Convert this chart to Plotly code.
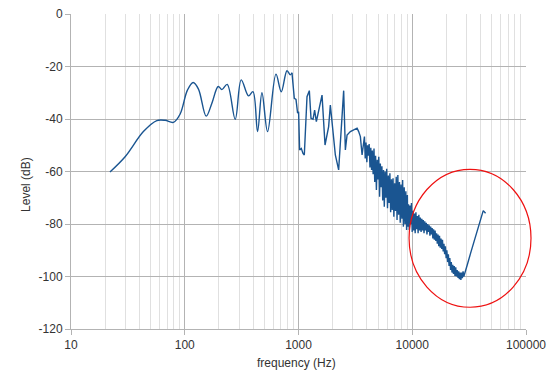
import plotly.graph_objects as go

# Smooth low-frequency part (Hz, dB)
smooth_freq = [22.0, 29.9, 43.3, 56.8, 67.2, 79.5, 91.1, 105.6, 118.6, 132, 154.3, 173.2,
               196.8, 212.2, 236.2, 277.8, 313.7, 363.7, 397.7, 436.5, 477.2, 534.6,
               633.9, 705.6, 792, 846.8, 876.5]
smooth_level = [-60.2, -54.4, -44.8, -40.6, -40.5, -41.3, -38.1, -29.0, -26.1, -28.6, -38.9, -34.0,
                -27.6, -28.8, -26.8, -40.1, -25.1, -31.2, -29.6, -44.8, -30.0, -44.8,
                -22.9, -29.6, -21.6, -23.2, -22.4]

# Mid part, ~0.9-3.6 kHz (Hz, dB)
mid_freq = [876.5, 918.3, 950.6, 981.9, 1002, 1023, 1058, 1095, 1125, 1188, 1245, 1288,
            1342, 1386, 1435, 1503, 1610, 1711, 1841, 1905, 1984, 2108, 2254, 2415,
            2495, 2582, 2673, 2858, 3055, 3273, 3381, 3499, 3622]
mid_level = [-22.4, -32.1, -32.5, -37.8, -37.2, -51.8, -51.2, -53.1, -53.7, -31.5, -29.2, -39.7,
             -40.1, -36.6, -41.0, -36.6, -30.9, -49.9, -42.9, -34.7, -43.5, -53.7, -59.4, -39.7,
             -29.2, -51.8, -46.1, -44.8, -44.2, -43.5, -44.8, -46.7, -53.7]

# Dense part, ~3.8-9 kHz (Hz, dB)
dense1_freq = [3800, 3860, 3920, 3990, 4050, 4120, 4180, 4250, 4320, 4390,
               4460, 4530, 4610, 4680, 4760, 4840, 4920, 5000, 5080, 5160,
               5240, 5330, 5410, 5500, 5590, 5680, 5770, 5870, 5960, 6060,
               6160, 6260, 6360, 6460, 6570, 6670, 6780, 6890, 7000, 7120,
               7230, 7350, 7470, 7590, 7720, 7840, 7970, 8100, 8230, 8360,
               8500, 8640, 8780, 8920, 9060]
dense1_level = [-46.7, -55.0, -49.0, -56.5, -50.0, -54.0, -49.5, -58.5, -51.0, -59.4,
                -52.0, -61.0, -51.2, -64.0, -54.0, -67.0, -55.5, -63.0, -54.4, -69.6,
                -57.0, -66.0, -58.0, -71.0, -59.4, -73.4, -60.0, -70.0, -59.0, -74.0,
                -61.5, -72.0, -60.7, -75.5, -63.0, -74.7, -62.6, -77.2, -64.5, -75.0,
                -62.0, -78.5, -61.3, -76.5, -64.0, -79.5, -65.0, -78.0, -63.2, -81.0,
                -66.0, -80.0, -67.5, -82.3, -69.0]

# Dense part, ~9-29 kHz (Hz, dB)
dense2_freq = [9130, 9270, 9410, 9550, 9690, 9840, 9990, 10140, 10290, 10450,
               10610, 10770, 10930, 11090, 11260, 11430, 11600, 11780, 11960, 12140,
               12320, 12500, 12690, 12880, 13080, 13270, 13470, 13680, 13880, 14090,
               14300, 14520, 14740, 14960, 15180, 15410, 15640, 15880, 16120, 16360,
               16600, 16850, 17110, 17360, 17620, 17890, 18160, 18430, 18710, 18990,
               19270, 19560, 19860, 20150, 20460, 20770, 21080, 21390, 21720, 22040,
               22370, 22710, 23050, 23400, 23750, 24110, 24470, 24840, 25210, 25590,
               25970, 26360, 26760, 27160, 27570, 27980, 28400, 28830]
dense2_level = [-81.0, -72.5, -82.3, -73.0, -80.0, -72.0, -83.0, -75.0, -82.5, -76.0,
                -83.5, -75.5, -82.0, -77.0, -83.5, -76.5, -82.5, -77.5, -83.0, -78.0,
                -82.5, -78.5, -83.5, -79.0, -82.5, -79.5, -84.0, -80.0, -83.0, -80.5,
                -84.5, -81.0, -84.0, -81.5, -85.5, -82.0, -86.0, -82.5, -86.5, -83.5,
                -87.5, -84.0, -88.5, -84.5, -89.0, -85.5, -89.5, -86.0, -90.5, -87.5,
                -91.5, -88.5, -93.0, -90.0, -94.5, -91.5, -96.0, -93.0, -97.5, -94.5,
                -98.5, -95.5, -99.0, -96.0, -99.8, -96.5, -100.0, -97.5, -100.5, -98.0,
                -101.0, -98.5, -101.3, -98.5, -100.6, -98.0, -100.0, -98.8]

# Rising tail above ~30 kHz (Hz, dB)
tail_freq = [30430, 32540, 34790, 37270, 39850, 42090, 44110]
tail_level = [-95.6, -91.2, -86.7, -82.3, -77.8, -74.9, -75.9]

x_ticks = [10, 100, 1000, 10000, 100000]
x_ticktext = ["10", "100", "1000", "10000", "100000"]
y_ticks = [-120, -100, -80, -60, -40, -20, 0]
y_ticktext = ["-120", "-100", "-80", "-60", "-40", "-20", "0"]

minor_vals = [m * d for d in [10, 100, 1000, 10000] for m in range(2, 10)]

detail_freq = mid_freq + dense1_freq + dense2_freq + tail_freq
detail_level = mid_level + dense1_level + dense2_level + tail_level

LINE = "#1a5591"
fig = go.Figure()
fig.add_trace(go.Scatter(x=smooth_freq, y=smooth_level, mode="lines",
                         line=dict(color=LINE, width=1.4, shape="spline", smoothing=1.0),
                         showlegend=False, hoverinfo="skip"))
fig.add_trace(go.Scatter(x=detail_freq, y=detail_level, mode="lines",
                         line=dict(color=LINE, width=1.4),
                         showlegend=False, hoverinfo="skip"))

font = dict(family="Liberation Sans, Arial, sans-serif", size=12, color="#333333")

fig.update_layout(
    width=550, height=382,
    margin=dict(l=71, r=24, t=14, b=53),
    paper_bgcolor="white", plot_bgcolor="white",
    font=font,
    xaxis=dict(type="log", range=[1, 5], tickmode="array", tickvals=x_ticks, ticktext=x_ticktext,
               showgrid=True, gridcolor="#b3b3b3", gridwidth=1,
               ticks="outside", ticklen=5, tickcolor="#b3b3b3",
               showline=True, linecolor="#b3b3b3", linewidth=1, zeroline=False,
               automargin=False,
               minor=dict(tickmode="array", tickvals=minor_vals, showgrid=True,
                          gridcolor="#e0e0e0", gridwidth=1, ticks=""),
               tickfont=font),
    yaxis=dict(range=[-120, 0], tickmode="array", tickvals=y_ticks, ticktext=y_ticktext,
               showgrid=True, gridcolor="#b3b3b3", gridwidth=1,
               ticks="outside", ticklen=5, tickcolor="#b3b3b3",
               showline=True, linecolor="#b3b3b3", linewidth=1, zeroline=False,
               automargin=False,
               tickfont=font),
    shapes=[dict(type="circle", xref="paper", yref="paper",
                 x0=0.743, x1=1.011, y0=0.069, y1=0.507,
                 line=dict(color="#ee1111", width=1.2), layer="above")],
    annotations=[
        dict(text="Level (dB)", xref="paper", yref="paper", x=-0.119, y=0.46,
             textangle=-90, showarrow=False, font=dict(family=font["family"], size=12, color="#333333")),
        dict(text="frequency (Hz)", xref="paper", yref="paper", x=0.495, y=-0.137,
             showarrow=False, font=dict(family=font["family"], size=12, color="#333333")),
    ],
)

fig.write_html("out.html", config={"displayModeBar": False},
               post_script="document.body.style.margin='0';")
